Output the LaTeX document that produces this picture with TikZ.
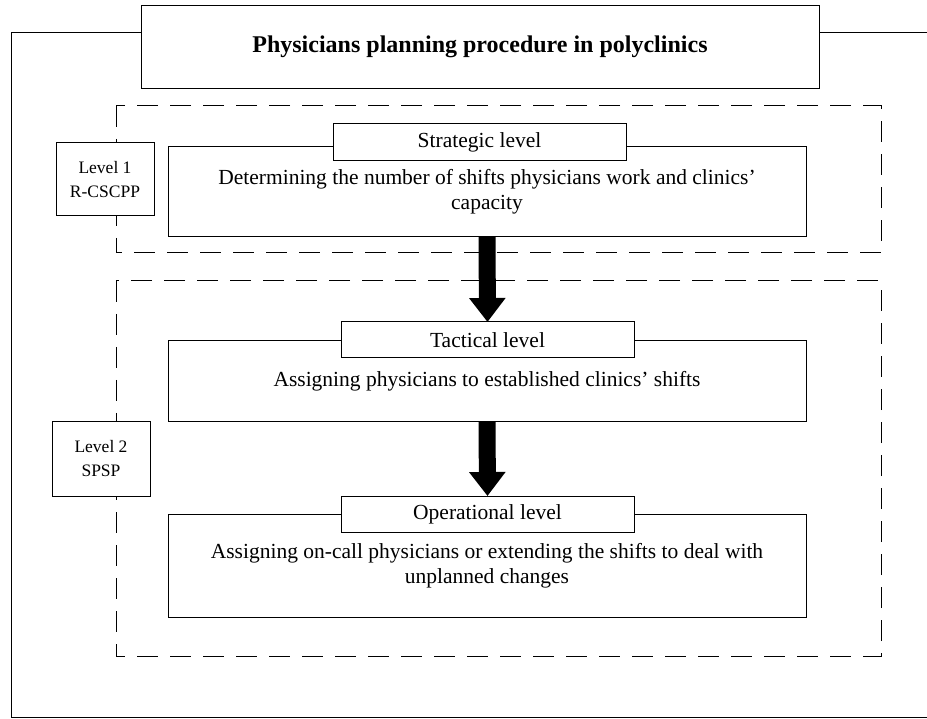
\documentclass[tikz,border=0pt]{standalone}
\usepackage{fontspec}
\setmainfont{Liberation Serif}
\usetikzlibrary{arrows.meta}
\tikzstyle{mainbox}=[draw, fill=white, inner sep=0pt, outer sep=0pt, minimum width=638pt, align=center, font=\fontsize{21.5}{25.5}\selectfont]
\tikzstyle{tagbox}=[draw, fill=white, inner sep=0pt, outer sep=0pt, minimum width=293pt, align=center, font=\fontsize{21.5}{25.5}\selectfont]
\tikzstyle{levelbox}=[draw, fill=white, inner sep=0pt, outer sep=0pt, minimum width=98pt, align=center, font=\fontsize{17.5}{24}\selectfont]
\tikzstyle{levelarea}=[dash pattern=on 21pt off 12pt]
\tikzstyle{bigarrow}=[line width=17pt, -{Triangle[length=24pt, width=35pt]}]
\newcommand{\mainbox}{\node[mainbox]}
\newcommand{\tagbox}{\node[tagbox]}

\begin{document}
\begin{tikzpicture}[x=1pt, y=-1pt, line width=1pt]
\useasboundingbox (0,0) rectangle (927,719);
\node[draw, inner sep=0pt, outer sep=0pt, minimum width=678pt, minimum height=83pt,
      font=\fontsize{24}{28}\selectfont\bfseries] (title) at (480,47)
      {Physicians planning procedure in polyclinics};
% outer frame
\coordinate (nw) at (11,33);
\coordinate (ne) at (927,33);
\coordinate (sw) at (11,717.5);
\coordinate (se) at (927,717.5);
\draw (nw -| title.west) -- (nw) -- (sw) -- (se);
\draw (ne -| title.east) -- (ne);
% level areas
\draw[levelarea] (116,106) rectangle (881,253);
\draw[levelarea] (116,281) rectangle (881,656);
\node[levelbox, minimum height=73pt] (lvlone) at (105,179.5) {Level 1\\R-CSCPP};
\node[levelbox, minimum height=74pt] (lvltwo) at (101,459) {Level 2\\SPSP};
% stages
\mainbox[minimum height=90pt]  (strat) at (487,192)   {Determining the number of shifts physicians work and clinics'\\capacity};
\mainbox[minimum height=81pt]  (tact)  at (487,381.5) {Assigning physicians to established clinics' shifts};
\mainbox[minimum height=103pt] (oper)  at (487,565.5) {Assigning on-call physicians or extending the shifts to deal with\\unplanned changes};
\tagbox[minimum height=37pt] (stratlbl) at (479.5,142.5) {Strategic level};
\tagbox[minimum height=36pt] (tactlbl)  at (487.5,340)  {Tactical level};
\tagbox[minimum height=36pt] (operlbl)  at (487.5,514)  {Operational level};
\draw[bigarrow] (strat.south) -- (tactlbl.north);
\draw[bigarrow] (tact.south) -- (operlbl.north);
\end{tikzpicture}
\end{document}
